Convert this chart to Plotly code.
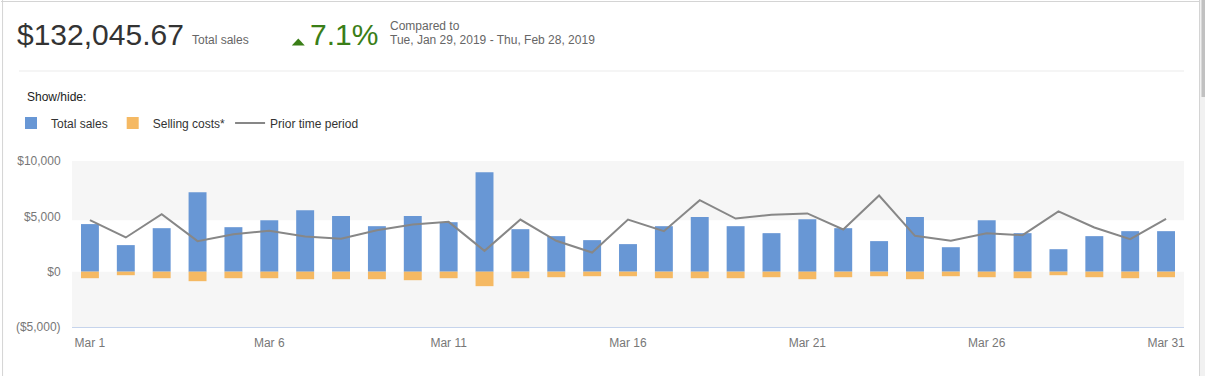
import plotly.graph_objects as go

# ---- data ----
days = [f"Mar {d}" for d in range(1, 32)]
tick_days = ["Mar 1", "Mar 6", "Mar 11", "Mar 16", "Mar 21", "Mar 26", "Mar 31"]
total_sales = [4300, 2400, 3930, 7180, 4020, 4650, 5560, 5020, 4110, 5020,
               4470, 8990, 3840, 3210, 2850, 2490, 4110, 4930, 4110, 3480,
               4740, 3930, 2760, 4930, 2210, 4650, 3480, 2030, 3210, 3660, 3660]
selling_costs = [-590, -320, -590, -860, -590, -590, -680, -680, -680, -770,
                 -590, -1310, -590, -500, -410, -410, -590, -590, -590, -500,
                 -680, -500, -410, -680, -410, -500, -590, -320, -500, -590, -500]
prior_period = [4650, 3090, 5200, 2760, 3390, 3690, 3180, 2970, 3750, 4260,
                4500, 1880, 4710, 2790, 1730, 4710, 3660, 6460, 4800, 5140,
                5260, 3810, 6880, 3240, 2790, 3480, 3300, 5440, 3990, 2940, 4770]
y_tickvals = [-5000, 0, 5000, 10000]
y_ticktext = ["($5,000)", "$0", "$5,000", "$10,000"]

headline_value = "$132,045.67"
headline_label = "Total sales"
change_text = "7.1%"
compare_line1 = "Compared to"
compare_line2 = "Tue, Jan 29, 2019 - Thu, Feb 28, 2019"

W, H = 1205, 376
L, R, T, B = 71, 1184, 161, 327
FONT = "Arial, Liberation Sans, sans-serif"


def px(x):
    return (x - L) / (R - L)


def py(y):
    return (B - y) / (B - T)


fig = go.Figure()
fig.add_trace(go.Bar(x=days, y=total_sales, name="Total sales",
                     marker=dict(color="#6897d5", line=dict(width=0))))
fig.add_trace(go.Bar(x=days, y=selling_costs, name="Selling costs*",
                     marker=dict(color="#f5b963", line=dict(width=0))))
fig.add_trace(go.Scatter(x=days, y=prior_period, name="Prior time period",
                         mode="lines", line=dict(color="#878787", width=2)))

shapes = [
    # white band inside plot area
    dict(type="rect", xref="paper", yref="y", x0=0, x1=1, y0=0, y1=4650,
         fillcolor="#ffffff", line=dict(width=0), layer="below"),
    # separator under header
    dict(type="line", xref="paper", yref="paper", x0=px(18), x1=px(1184),
         y0=py(71), y1=py(71), line=dict(color="#ebebeb", width=1)),
    # outer borders
    dict(type="line", xref="paper", yref="paper", x0=px(1.5), x1=px(1.5),
         y0=py(0), y1=py(376), line=dict(color="#d4d4d4", width=1)),
    dict(type="line", xref="paper", yref="paper", x0=px(0), x1=px(1200),
         y0=py(1.5), y1=py(1.5), line=dict(color="#d4d4d4", width=1)),
    dict(type="line", xref="paper", yref="paper", x0=px(1199.5), x1=px(1199.5),
         y0=py(0), y1=py(376), line=dict(color="#d4d4d4", width=1)),
    # scrollbar
    dict(type="rect", xref="paper", yref="paper", x0=px(1200), x1=px(1205),
         y0=py(0), y1=py(376), fillcolor="#f1f1f1", line=dict(width=0)),
    dict(type="rect", xref="paper", yref="paper", x0=px(1201.5), x1=px(1205),
         y0=py(0), y1=py(97), fillcolor="#c1c1c1", line=dict(width=0)),
    # green up triangle
    dict(type="path", xref="paper", yref="paper",
         path=f"M {px(291)},{py(45.5)} L {px(304)},{py(45.5)} L {px(297.5)},{py(38.5)} Z",
         fillcolor="#3a7e17", line=dict(width=0)),
]

annotations = [
    dict(text=headline_value, x=px(14), y=py(34), xref="paper", yref="paper",
         xanchor="left", yanchor="middle", showarrow=False,
         font=dict(family=FONT, size=30, color="#333333")),
    dict(text=headline_label, x=px(189), y=py(40), xref="paper", yref="paper",
         xanchor="left", yanchor="middle", showarrow=False,
         font=dict(family=FONT, size=12, color="#666666")),
    dict(text=change_text, x=px(307), y=py(34), xref="paper", yref="paper",
         xanchor="left", yanchor="middle", showarrow=False,
         font=dict(family=FONT, size=30, color="#3a7e17")),
    dict(text=compare_line1, x=px(387), y=py(26), xref="paper", yref="paper",
         xanchor="left", yanchor="middle", showarrow=False,
         font=dict(family=FONT, size=12, color="#666666")),
    dict(text=compare_line2, x=px(387), y=py(40), xref="paper", yref="paper",
         xanchor="left", yanchor="middle", showarrow=False,
         font=dict(family=FONT, size=12, color="#666666")),
    dict(text="Show/hide:", x=px(24), y=py(97), xref="paper", yref="paper",
         xanchor="left", yanchor="middle", showarrow=False,
         font=dict(family=FONT, size=12, color="#222222")),
]

fig.update_layout(
    width=W, height=H,
    margin=dict(l=L, r=W - R, t=T, b=H - B, pad=0),
    paper_bgcolor="#ffffff",
    plot_bgcolor="#f6f6f6",
    barmode="relative",
    bargap=0.5,
    font=dict(family=FONT, size=12, color="#777777"),
    showlegend=True,
    legend=dict(orientation="h", x=px(11), xanchor="left", y=py(123),
                yanchor="middle", traceorder="normal",
                font=dict(family=FONT, size=12, color="#333333"),
                bgcolor="rgba(0,0,0,0)", itemclick="toggle"),
    shapes=shapes,
    annotations=annotations,
    xaxis=dict(type="category", categoryorder="array", categoryarray=days,
               range=[-0.5, 30.5], tickmode="array", tickvals=tick_days,
               ticktext=tick_days, showgrid=False, zeroline=False,
               showline=True, linecolor="#c6d4ec", linewidth=1,
               ticks="outside", ticklen=0, ticklabelstandoff=5,
               tickfont=dict(family=FONT, size=12, color="#777777"),
               fixedrange=True),
    yaxis=dict(range=[-5000, 10000], tickmode="array", tickvals=y_tickvals,
               ticktext=y_ticktext, showgrid=False, zeroline=False,
               showline=False, ticks="outside", ticklen=0,
               ticklabelstandoff=8,
               tickfont=dict(family=FONT, size=12, color="#777777"),
               fixedrange=True),
    hovermode="x",
)

fig.write_html(
    "out.html",
    config={"displayModeBar": False},
    post_script="document.body.style.margin='0';",
)
